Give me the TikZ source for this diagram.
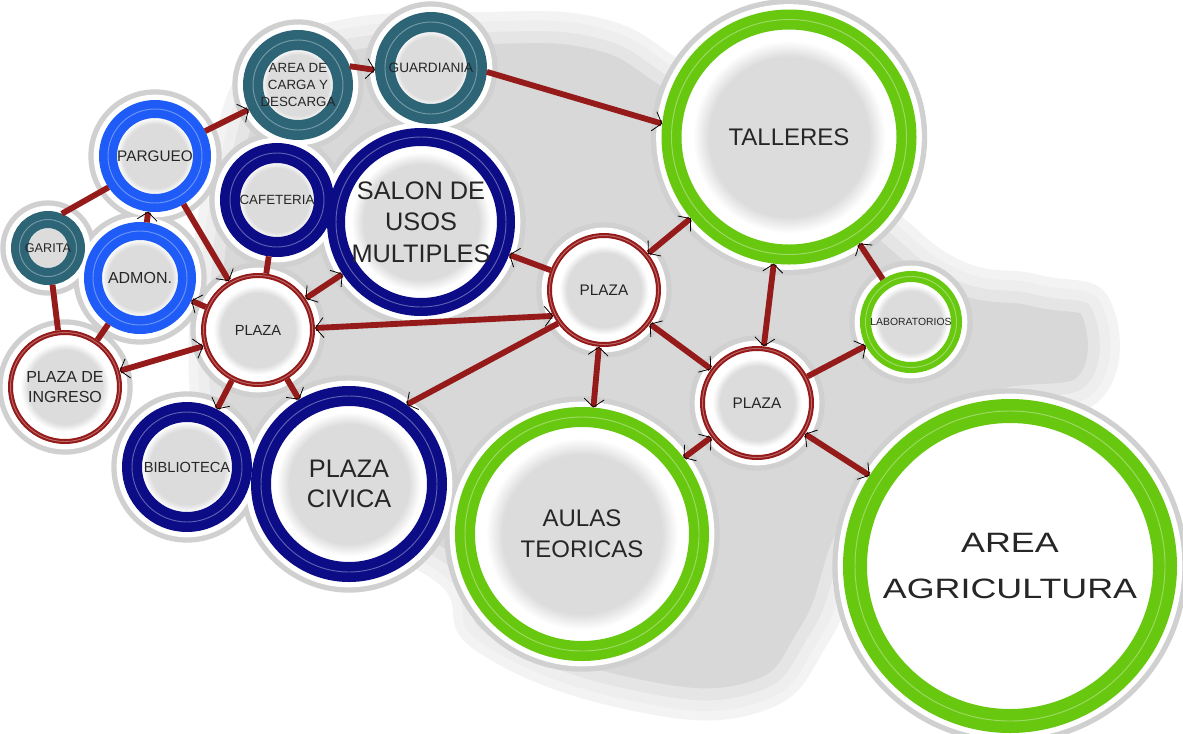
\documentclass[tikz,border=0pt]{standalone}
\usepackage{fontspec}
\setmainfont{Liberation Sans}
\newfontfamily\widefont[FakeStretch=1.28]{Liberation Sans}
\usetikzlibrary{arrows.meta,calc,backgrounds}
\newcommand{\pxu}{0.75pt}
\definecolor{tealring}{HTML}{2D6577}
\definecolor{bluering}{HTML}{1F5CF7}
\definecolor{navyring}{HTML}{0B0C86}
\definecolor{greenring}{HTML}{68C810}
\definecolor{linkred}{HTML}{951A1A}
\definecolor{bggray}{HTML}{D8D8D8}
\definecolor{glowgray}{HTML}{D0D0D0}
\definecolor{fillgray}{HTML}{DCDCDC}
\pgfdeclareradialshading{bubblefill}{\pgfpoint{0bp}{0bp}}{color(0bp)=(fillgray); color(17bp)=(fillgray); color(20.5bp)=(white); color(50bp)=(white)}
\newcommand{\blobpath}{plot[smooth cycle,tension=.75] coordinates {(210,160) (250,60) (340,20) (480,12) (600,18) (680,60) (760,120) (880,200) (960,260) (1040,275) (1110,300) (1100,400) (980,430) (880,520) (830,640) (760,712) (620,708) (475,650) (440,585) (350,545) (260,515) (200,440) (190,300)}}
\tikzset{
  disc/.style={circle,inner sep=0pt,align=center,text=black!85},
  bubble/.style={disc,shade,shading=bubblefill},
  openbubble/.style={disc,fill=white},
  ring/.style n args={3}{draw=#1,line width=#3*\pxu,minimum size=(#2-#3)*\pxu,
    postaction={draw=#1!65!white,line width=.7pt}},
  txt/.style 2 args={font=\fontsize{#1}{#2}\selectfont},
  link/.style={draw=linkred,line width=4.4pt},
  mk/.tip={Straight Barb[black,length=6pt,width=15pt,line width=.6pt]},
  glow/.style={fill=glowgray},
  halo/.style={fill=white}
}

\begin{document}
\begin{tikzpicture}[x=\pxu,y=-\pxu,line join=round]
  \useasboundingbox (0,0) rectangle (1183,733);

  % access and services (left)
  \node[bubble,ring={tealring}{74}{17},txt={9.5}{11}] (garita) at (48,248) {GARITA};
  \node[bubble,ring={bluering}{112}{18},txt={11.5}{13}] (pargueo) at (155,156) {PARGUEO};
  \node[bubble,ring={bluering}{112}{18},txt={12}{14}] (admon) at (140,278) {ADMON.};
  \node[bubble,ring={tealring}{110}{20},txt={10}{13}] (carga) at (298,85) {AREA DE\\CARGA Y\\DESCARGA};
  \node[bubble,ring={tealring}{112}{20},txt={10.2}{12}] (guard) at (431,68) {GUARDIANIA};
  \node[bubble,ring={navyring}{114}{20},txt={10}{12}] (cafe) at (277,200) {CAFETERIA};
  \node[bubble,ring={navyring}{188}{18},txt={19}{23.5}] (salon) at (421,222) {SALON DE\\USOS\\MULTIPLES};
  \node[bubble,ring={linkred}{114}{5},txt={11}{13}] (plazaL) at (258,330) {PLAZA};
  \node[bubble,ring={linkred}{114}{5},txt={12}{15}] (ingreso) at (65,387) {PLAZA DE\\INGRESO};
  \node[bubble,ring={navyring}{130}{20},txt={11}{13}] (biblio) at (187,467) {BIBLIOTECA};
  \node[bubble,ring={navyring}{196}{20},txt={19}{23}] (civica) at (349,484) {PLAZA\\CIVICA};

  % teaching and production (right)
  \node[bubble,ring={linkred}{114}{5},txt={11.5}{13}] (plazaM) at (604,290) {PLAZA};
  \node[bubble,ring={greenring}{255}{20},txt={18}{21}] (talleres) at (789,137) {TALLERES};
  \node[bubble,ring={greenring}{102}{11},txt={7.8}{9}] (lab) at (911,322) {LABORATORIOS};
  \node[bubble,ring={linkred}{114}{5},txt={11.5}{13}] (plazaR) at (757,403) {PLAZA};
  \node[bubble,ring={greenring}{254}{20},txt={18}{23}] (aulas) at (582,534) {AULAS\\TEORICAS};
  \node[openbubble,ring={greenring}{334}{24},font=\widefont\fontsize{21}{35}\selectfont] (agri) at (1010,566) {AREA\\AGRICULTURA};

  \begin{pgfonlayer}{background}
    \fill[bggray] \blobpath;
    \draw[white,opacity=.35,line width=48pt] \blobpath;
    \draw[white,opacity=.35,line width=30pt] \blobpath;
    \draw[white,opacity=.35,line width=14pt] \blobpath;
    \foreach \nd in {garita,pargueo,admon,carga,guard,cafe,salon,plazaL,ingreso,biblio,civica,plazaM,talleres,lab,plazaR,aulas,agri}
      \fill[glow] let \p1=(\nd.east), \p2=(\nd.center) in (\p2) circle [radius=\x1-\x2+8pt];
    \foreach \nd in {garita,pargueo,admon,carga,guard,cafe,salon,plazaL,ingreso,biblio,civica,plazaM,talleres,lab,plazaR,aulas,agri}
      \fill[halo] let \p1=(\nd.east), \p2=(\nd.center) in (\p2) circle [radius=\x1-\x2+4pt];
  \end{pgfonlayer}

  % connections
  \draw[link] (garita.68) -- (pargueo.214);
  \draw[link] (garita) -- (ingreso);
  \draw[link] (admon) -- (ingreso);
  \draw[link,-{mk}] (admon) -- (pargueo);
  \draw[link,-{mk}] (pargueo) -- (carga);
  \draw[link,-{mk}] (carga.20) -- (guard.182);
  \draw[link,-{mk}] (guard.-4) -- (talleres.174);
  \draw[link,-{mk}] (pargueo) -- (plazaL);
  \draw[link,-{mk}] (plazaL) -- (admon);
  \draw[link] (plazaL) -- (cafe);
  \draw[link,{mk}-{mk}] (plazaL) -- (salon);
  \draw[link,{mk}-{mk}] (plazaL.2) -- (plazaM.207);
  \draw[link,{mk}-{mk}] (plazaL) -- (ingreso);
  \draw[link,-{mk}] (plazaL) -- (biblio);
  \draw[link,-{mk}] (plazaL) -- (civica);
  \draw[link,-{mk}] (plazaM.216) -- (civica.54);
  \draw[link,-{mk}] (plazaM) -- (salon);
  \draw[link,{mk}-{mk}] (plazaM) -- (talleres);
  \draw[link,{mk}-{mk}] (plazaM) -- (aulas);
  \draw[link,{mk}-{mk}] (plazaM) -- (plazaR);
  \draw[link,{mk}-{mk}] (talleres) -- (plazaR);
  \draw[link,-{mk}] (lab) -- (talleres);
  \draw[link,-{mk}] (plazaR) -- (lab);
  \draw[link,{mk}-{mk}] (plazaR) -- (aulas);
  \draw[link,{mk}-{mk}] (plazaR) -- (agri);
\end{tikzpicture}
\end{document}
